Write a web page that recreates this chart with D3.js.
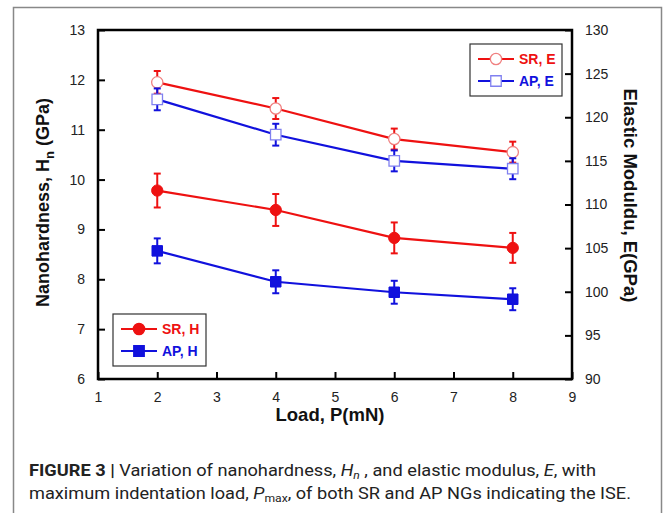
<!DOCTYPE html>
<html>
<head>
<meta charset="utf-8">
<script src="https://cdn.jsdelivr.net/npm/d3@7"></script>
<style>
  body { margin: 0; background: #fff; }
  svg { display: block; font-family: Arial, "Liberation Sans", sans-serif; }
</style>
</head>
<body>
<div id="chart"></div>
<script>
// Load values (mN)
const loads = [2, 4, 6, 8];

// Nanohardness (GPa), left axis
const srH = [9.78, 9.39, 8.83, 8.63];
const srHErr = [0.34, 0.32, 0.31, 0.30];
const apH = [8.57, 7.95, 7.74, 7.60];
const apHErr = [0.25, 0.23, 0.23, 0.22];

// Elastic modulus (GPa), right axis
const srE = [124.0, 121.0, 117.5, 116.0];
const srEErr = [1.3, 1.2, 1.2, 1.2];
const apE = [122.05, 118.0, 115.0, 114.1];
const apEErr = [1.25, 1.25, 1.2, 1.2];

const xTicks = [1, 2, 3, 4, 5, 6, 7, 8, 9];
const hTicks = [6, 7, 8, 9, 10, 11, 12, 13];
const eTicks = [90, 95, 100, 105, 110, 115, 120, 125, 130];

const width = 663, height = 513;
const plot = {left: 98, right: 572, top: 30, bottom: 379};

const svg = d3.select('#chart').append('svg')
    .attr('width', width)
    .attr('height', height);

// outer frame (no bottom edge)
svg.append('path')
    .attr('d', 'M13.5,513 V7.5 H661.5 V513')
    .attr('fill', 'none')
    .attr('stroke', '#888')
    .attr('stroke-width', 1.5);

const x = d3.scaleLinear().domain([1, 9]).range([plot.left, plot.right]);
const yH = d3.scaleLinear().domain([6, 13]).range([plot.bottom, plot.top]);
const yE = d3.scaleLinear().domain([90, 130]).range([plot.bottom, plot.top]);
const fmt = d3.format('d');

// axes: ticks point inward
const axisStyle = g => {
    g.select('.domain').remove();
    g.selectAll('.tick line').attr('stroke', '#000').attr('stroke-width', 2);
    g.selectAll('.tick text').attr('font-size', 14).attr('fill', '#222')
        .attr('font-family', 'Arial, "Liberation Sans", sans-serif');
};

svg.append('g')
    .attr('transform', `translate(0,${plot.bottom})`)
    .call(d3.axisBottom(x).tickValues(xTicks).tickFormat(fmt).tickSizeInner(-7).tickSizeOuter(0).tickPadding(13))
    .call(axisStyle);

svg.append('g')
    .attr('transform', `translate(${plot.left},0)`)
    .call(d3.axisLeft(yH).tickValues(hTicks).tickFormat(fmt).tickSizeInner(-7).tickSizeOuter(0).tickPadding(13))
    .call(axisStyle);

svg.append('g')
    .attr('transform', `translate(${plot.right},0)`)
    .call(d3.axisRight(yE).tickValues(eTicks).tickFormat(fmt).tickSizeInner(-7).tickSizeOuter(0).tickPadding(13))
    .call(axisStyle);

// plot frame
svg.append('rect')
    .attr('x', plot.left).attr('y', plot.top)
    .attr('width', plot.right - plot.left).attr('height', plot.bottom - plot.top)
    .attr('fill', 'none').attr('stroke', '#000').attr('stroke-width', 2.5);

const red = '#ee1111', blue = '#1111dd';

function drawSeries(vals, errs, yScale, color, shape, filled) {
    const pts = loads.map((l, i) => ({x: l, y: vals[i], e: errs[i]}));
    const g = svg.append('g');
    g.append('path')
        .datum(pts)
        .attr('fill', 'none')
        .attr('stroke', color)
        .attr('stroke-width', 2.2)
        .attr('d', d3.line().x(d => x(d.x)).y(d => yScale(d.y)));

    const eb = g.selectAll('.eb').data(pts).join('g')
        .attr('stroke', color).attr('stroke-width', 2);
    eb.append('line')
        .attr('x1', d => x(d.x)).attr('x2', d => x(d.x))
        .attr('y1', d => yScale(d.y - d.e)).attr('y2', d => yScale(d.y + d.e));
    eb.append('line')
        .attr('x1', d => x(d.x) - 3.5).attr('x2', d => x(d.x) + 3.5)
        .attr('y1', d => yScale(d.y + d.e)).attr('y2', d => yScale(d.y + d.e));
    eb.append('line')
        .attr('x1', d => x(d.x) - 3.5).attr('x2', d => x(d.x) + 3.5)
        .attr('y1', d => yScale(d.y - d.e)).attr('y2', d => yScale(d.y - d.e));

    const sym = d3.symbol().type(shape).size(shape === d3.symbolCircle ? 100 : 110);
    g.selectAll('.pt').data(pts).join('path')
        .attr('transform', d => `translate(${x(d.x)},${yScale(d.y)})`)
        .attr('d', sym)
        .attr('fill', filled ? color : '#fff')
        .attr('stroke', filled ? color : (color === red ? '#f08080' : '#8080f0'))
        .attr('stroke-width', filled ? 1 : 1.3);
}

drawSeries(srE, srEErr, yE, red, d3.symbolCircle, false);
drawSeries(apE, apEErr, yE, blue, d3.symbolSquare, false);
drawSeries(srH, srHErr, yH, red, d3.symbolCircle, true);
drawSeries(apH, apHErr, yH, blue, d3.symbolSquare, true);

// legends
function legend(x0, y0, w, h, items) {
    const g = svg.append('g').attr('transform', `translate(${x0},${y0})`);
    g.append('rect').attr('width', w).attr('height', h)
        .attr('fill', '#fff').attr('stroke', '#333').attr('stroke-width', 1.2);
    items.forEach((it, i) => {
        const cy = 15 + i * 22;
        g.append('line').attr('x1', 8).attr('x2', 44).attr('y1', cy).attr('y2', cy)
            .attr('stroke', it.color).attr('stroke-width', 2);
        g.append('path')
            .attr('transform', `translate(26,${cy})`)
            .attr('d', d3.symbol().type(it.shape).size(it.shape === d3.symbolCircle ? 100 : 110))
            .attr('fill', it.filled ? it.color : '#fff')
            .attr('stroke', it.filled ? it.color : (it.color === red ? '#f08080' : '#8080f0'))
            .attr('stroke-width', 1.3);
        g.append('text').attr('x', 49).attr('y', cy + 5)
            .attr('font-size', 14).attr('font-weight', 'bold')
            .attr('fill', it.color).text(it.label);
    });
}

legend(470, 44, 92, 52, [
    {label: 'SR, E', color: red, shape: d3.symbolCircle, filled: false},
    {label: 'AP, E', color: blue, shape: d3.symbolSquare, filled: false}
]);
legend(113, 314, 93, 52, [
    {label: 'SR, H', color: red, shape: d3.symbolCircle, filled: true},
    {label: 'AP, H', color: blue, shape: d3.symbolSquare, filled: true}
]);

// axis titles
const yl = svg.append('text')
    .attr('transform', `translate(49,${(plot.top + plot.bottom) / 2 - 2}) rotate(-90)`)
    .attr('text-anchor', 'middle')
    .attr('font-size', 18).attr('font-weight', 'bold').attr('fill', '#111');
yl.append('tspan').text('Nanohardness, H');
yl.append('tspan').attr('font-size', 13).attr('dy', 5).text('n');
yl.append('tspan').attr('dy', -5).text(' (GPa)');

svg.append('text')
    .attr('transform', `translate(624,${(plot.top + plot.bottom) / 2 - 9}) rotate(90)`)
    .attr('text-anchor', 'middle')
    .attr('font-size', 18.5).attr('font-weight', 'bold').attr('fill', '#111')
    .text('Elastic Moduldu, E(GPa)');

svg.append('text')
    .attr('x', (plot.left + plot.right) / 2 - 5).attr('y', 421)
    .attr('text-anchor', 'middle')
    .attr('font-size', 18.5).attr('font-weight', 'bold').attr('fill', '#111')
    .text('Load, P(mN)');

// caption
const cap = svg.append('g')
    .attr('font-family', 'Roboto, "Liberation Sans", sans-serif')
    .attr('font-size', 16.5).attr('fill', '#222');
const l1 = cap.append('text').attr('x', 29).attr('y', 476)
    .attr('textLength', 567).attr('lengthAdjust', 'spacingAndGlyphs');
l1.append('tspan').attr('font-weight', 'bold').text('FIGURE 3 |');
l1.append('tspan').text(' Variation of nanohardness, ');
l1.append('tspan').attr('font-style', 'italic').text('H');
l1.append('tspan').attr('font-style', 'italic').attr('font-size', 11).attr('dy', 3).text('n');
l1.append('tspan').attr('dy', -3).text(' , and elastic modulus, ');
l1.append('tspan').attr('font-style', 'italic').text('E');
l1.append('tspan').text(', with');
const l2 = cap.append('text').attr('x', 29).attr('y', 499)
    .attr('textLength', 602).attr('lengthAdjust', 'spacingAndGlyphs');
l2.append('tspan').text('maximum indentation load, ');
l2.append('tspan').attr('font-style', 'italic').text('P');
l2.append('tspan').attr('font-size', 11).attr('dy', 3).text('max');
l2.append('tspan').attr('dy', -3).text(', of both SR and AP NGs indicating the ISE.');
</script>
</body>
</html>
